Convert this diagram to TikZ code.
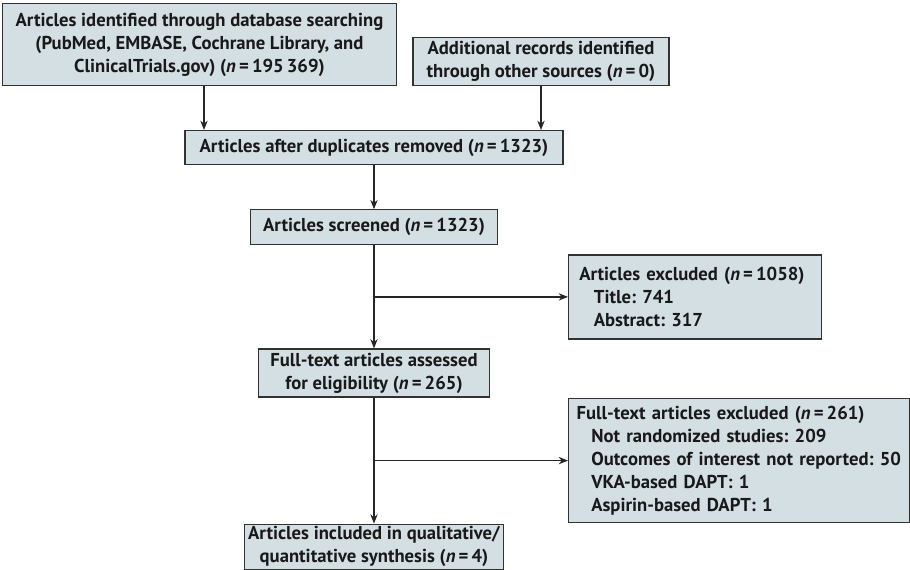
\documentclass[tikz,border=0pt]{standalone}
\usepackage{fontspec}
\setmainfont{PT Sans}
\usetikzlibrary{positioning,arrows.meta}
\definecolor{boxfill}{RGB}{212,223,228}
\definecolor{boxline}{RGB}{50,50,50}
\frenchspacing
\tikzset{
    box/.style = {
        draw = boxline,
        fill = boxfill,
        text = black!90,
        line width = 0.9pt,
        font = \fontsize{14}{17.25}\selectfont\bfseries,
        inner xsep = 3pt,
        inner ysep = 2pt,
        align = center,
        },
    list box/.style = {
        box,
        align = left,
        inner xsep = 6pt,
        },
    flow/.style = {
        draw = black!85,
        line width = 0.9pt,
        -{Stealth[length=7pt, width=5.5pt]},
        },
}
\newcommand{\ncount}[1]{(\textit{n}\,=\,#1)}
\newcommand{\sub}{\hspace*{11pt}}

\begin{document}
\begin{tikzpicture}
            \useasboundingbox (0,0) rectangle (682.5pt,-426.75pt);

            \node[box, minimum width=296pt, minimum height=62pt] (db) at (149.6pt,-33.4pt)
                {Articles identified through database searching\\(PubMed, EMBASE, Cochrane Library, and\\ClinicalTrials.gov) \ncount{195\,369}};
            \node[box, minimum width=192pt, minimum height=36pt, anchor=south west] (other) at ([xshift=11.25pt]db.south east)
                {Additional records identified\\through other sources \ncount{0}};
            \node[box, minimum width=283.5pt, minimum height=25.5pt, anchor=north] (dup) at (280.5pt,-97.5pt)
                {Articles after duplicates removed \ncount{1323}};
            \node[box, minimum width=185.25pt, minimum height=26.25pt, below=33pt of dup] (screened)
                {Articles screened \ncount{1323}};
            \node[box, minimum width=173.25pt, minimum height=36pt, below=77.25pt of screened] (assessed)
                {Full-text articles assessed\\for eligibility \ncount{265}};
            \node[box, inner ysep=0.5pt, minimum width=191.25pt, minimum height=33.75pt, below=94.5pt of assessed] (included)
                {Articles included in qualitative/\\quantitative synthesis \ncount{4}};

            \path (screened.south) -- coordinate (m1) (assessed.north);
            \path (assessed.south) -- coordinate (m2) (included.north);

            \node[list box, inner xsep=8pt, text width=173.75pt, minimum height=63pt, anchor=west] (excl1) at ([xshift=145.5pt]m1)
                {Articles excluded \ncount{1058}\\\sub Title: 741\\\sub Abstract: 317};
            \node[list box, text width=243.75pt, minimum height=93pt, anchor=west] (excl2) at ([xshift=145.5pt]m2)
                {Full-text articles excluded \ncount{261}\\\sub Not randomized studies: 209\\\sub Outcomes of interest not reported: 50\\\sub VKA-based DAPT: 1\\\sub Aspirin-based DAPT: 1};

            \coordinate (a1) at (153pt,0);
            \path (a1 |- db.south) edge[flow] (a1 |- dup.north);
            \path (other.south) edge[flow] (other.south |- dup.north);
            \path (dup.south) edge[flow] (screened.north);
            \path (screened.south) edge[flow] (assessed.north);
            \path (m1) edge[flow] (excl1.west);
            \path (assessed.south) edge[flow] (included.north);
            \path (m2) edge[flow] (excl2.west);
        \end{tikzpicture}
\end{document}
